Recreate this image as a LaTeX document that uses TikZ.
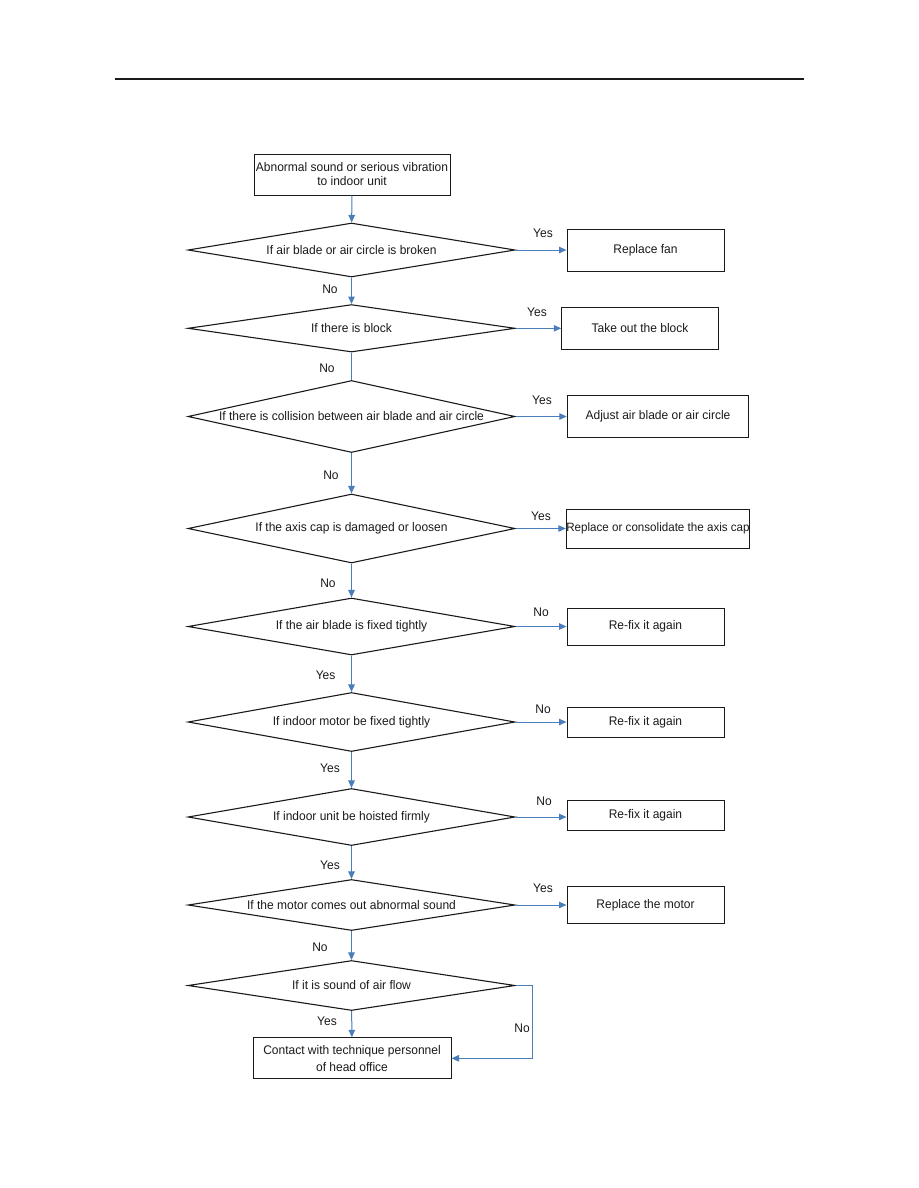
\documentclass[tikz,border=0pt]{standalone}
\usepackage{fontspec}
\setmainfont{Liberation Sans}[FakeStretch=0.96]
\usepackage{xcolor}
\definecolor{flowblue}{HTML}{4A7EBB}
\definecolor{flowdark}{HTML}{1A1A1A}
\usetikzlibrary{shapes.geometric,arrows.meta,positioning}

\begin{document}
\begin{tikzpicture}[x=1pt,y=-1pt,
  box/.style={draw=flowdark, line width=1pt, minimum width=157pt,
              minimum height=42pt, inner sep=1pt, align=center,
              font=\fontsize{12.5}{14}\selectfont\color{flowdark}},
  dec/.style={draw=flowdark, line width=1.1pt, shape=diamond,
              minimum width=327pt, inner sep=0pt,
              font=\fontsize{12.5}{14}\selectfont\color{flowdark}},
  lbl/.style={inner sep=0pt, font=\fontsize{12.5}{14}\selectfont\color{flowdark}},
  arr/.style={draw=flowblue, line width=1pt, -{Triangle[length=7.5pt,width=6.5pt]}},
  ln/.style={draw=flowblue, line width=1pt}
]
  \useasboundingbox (0,0) rectangle (918,1188);
  \draw[flowdark, line width=1.3pt] (115,79) -- (804,79);

  \node[box, minimum width=196pt, minimum height=41pt] (start) at (352,174.5)
    {Abnormal sound or serious vibration\\to indoor unit};

  \node[dec, minimum height=54pt, aspect=6.06]   (d1) at (351.5,250)   {If air blade or air circle is broken};
  \node[dec, minimum height=47.5pt, aspect=6.9]  (d2) at (351.5,328.3) {If there is block};
  \node[dec, minimum height=72pt, aspect=4.54]   (d3) at (351.5,416.5) {If there is collision between air blade and air circle};
  \node[dec, minimum height=69pt, aspect=4.74]   (d4) at (351.5,528.5) {If the axis cap is damaged or loosen};
  \node[dec, minimum height=57pt, aspect=5.74]   (d5) at (351.5,626.5) {If the air blade is fixed tightly};
  \node[dec, minimum height=59pt, aspect=5.54]   (d6) at (351.5,722)   {If indoor motor be fixed tightly};
  \node[dec, minimum height=57pt, aspect=5.74]   (d7) at (351.5,817)   {If indoor unit be hoisted firmly};
  \node[dec, minimum height=51pt, aspect=6.41]   (d8) at (351.5,905)   {If the motor comes out abnormal sound};
  \node[dec, minimum height=50pt, aspect=6.54]   (d9) at (351.5,985.5) {If it is sound of air flow};

  \node[box]                                    (b1) at (645.5,250)   {Replace fan};
  \node[box, minimum width=156.5pt]             (b2) at (640,328.2)   {Take out the block};
  \node[box, minimum width=181.5pt]             (b3) at (658,416)     {Adjust air blade or air circle};
  \node[box, minimum width=181.5pt, minimum height=39pt, inner sep=0pt,
        font=\fontsize{12.1}{14}\selectfont\color{flowdark}] (b4) at (658,528.5) {Replace or consolidate the axis cap};
  \node[box, minimum height=37pt]               (b5) at (645.5,626.5) {Re-fix it again};
  \node[box, minimum height=30pt]               (b6) at (645.5,722)   {Re-fix it again};
  \node[box, minimum height=29.5pt]             (b7) at (645.5,815.5) {Re-fix it again};
  \node[box, minimum height=37pt]               (b8) at (645.5,905)   {Replace the motor};

  \node[box, minimum width=198pt, minimum height=41pt,
        font=\fontsize{12.5}{17.5}\selectfont\color{flowdark}] (contact) at (352,1058.3)
    {Contact with technique personnel\\of head office};

  \draw[arr] (start) -- (d1);
  \draw[arr] (d1) -- (d2);
  \draw[ln]  (d2) -- (d3);
  \draw[arr] (d3) -- (d4);
  \draw[arr] (d4) -- (d5);
  \draw[arr] (d5) -- (d6);
  \draw[arr] (d6) -- (d7);
  \draw[arr] (d7) -- (d8);
  \draw[arr] (d8) -- (d9);
  \draw[arr] (d9) -- (contact);

  \draw[arr] (d1.east) -- (d1.east -| b1.west);
  \draw[arr] (d2.east) -- (d2.east -| b2.west);
  \draw[arr] (d3.east) -- (d3.east -| b3.west);
  \draw[arr] (d4.east) -- (d4.east -| b4.west);
  \draw[arr] (d5.east) -- (d5.east -| b5.west);
  \draw[arr] (d6.east) -- (d6.east -| b6.west);
  \draw[arr] (d7.east) -- (d7.east -| b7.west);
  \draw[arr] (d8.east) -- (d8.east -| b8.west);
  \draw[arr] (d9.east) -- ++(17,0) |- (contact.east);

  \node[lbl] (y1) at (543,233)   {Yes};
  \node[lbl] (y2) at (537,312.7) {Yes};
  \node[lbl] (y3) at (542,400)   {Yes};
  \node[lbl] (y4) at (541,516.7) {Yes};
  \node[lbl] (n5) at (541,612.7) {No};
  \node[lbl] (n6) at (543,709)   {No};
  \node[lbl] (n7) at (544,801.7) {No};
  \node[lbl] (y8) at (543,888)   {Yes};

  \node[lbl] (n1) at (330,289)   {No};
  \node[lbl] (n2) at (327,368)   {No};
  \node[lbl] (n3) at (331,475)   {No};
  \node[lbl] (n4) at (328,583)   {No};
  \node[lbl] (y5) at (325.6,675) {Yes};
  \node[lbl] (y6) at (330,768)   {Yes};
  \node[lbl] (y7) at (330,865)   {Yes};
  \node[lbl] (n8) at (320,947)   {No};
  \node[lbl] (y9) at (327,1021)  {Yes};
  \node[lbl] (n9) at (522,1028)  {No};

\end{tikzpicture}
\end{document}
